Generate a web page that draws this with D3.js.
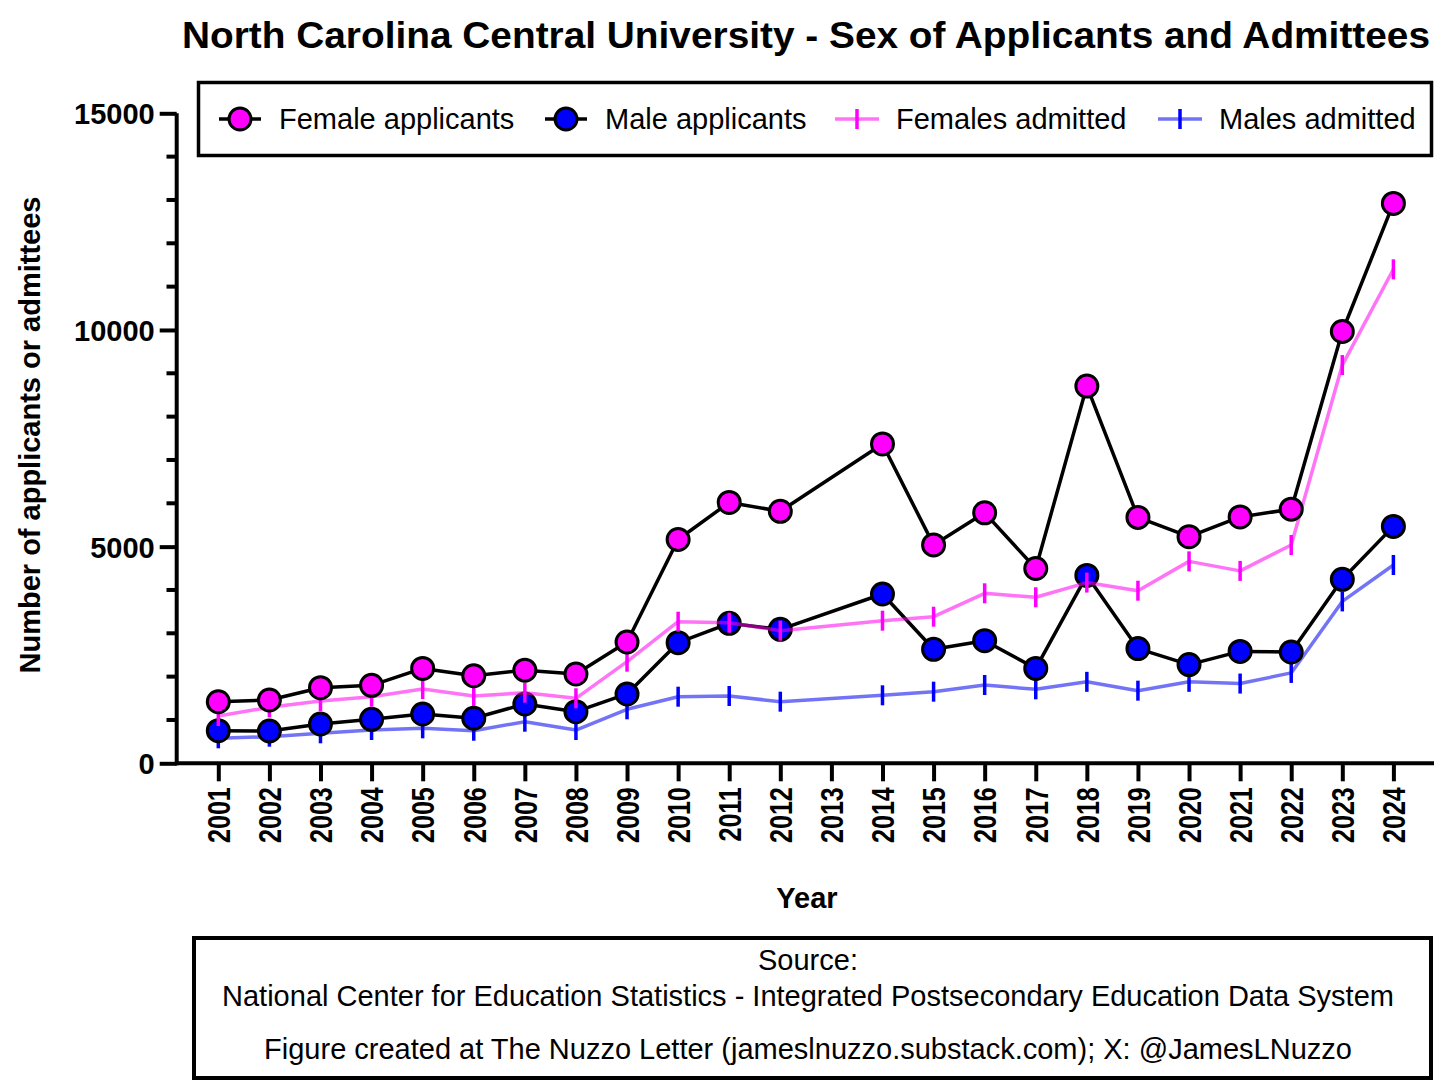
<!DOCTYPE html>
<html>
<head>
<meta charset="utf-8">
<script src="https://cdn.jsdelivr.net/npm/d3@7"></script>
<style>
  body { margin: 0; background: #fff; }
  svg { display: block; font-family: "Liberation Sans", Arial, Helvetica, sans-serif; }
</style>
</head>
<body>
<div id="chart"></div>
<script>
// NCCU applicants / admittees by sex (no 2013 data)
const years = [2001, 2002, 2003, 2004, 2005, 2006, 2007, 2008, 2009, 2010, 2011, 2012,
               2014, 2015, 2016, 2017, 2018, 2019, 2020, 2021, 2022, 2023, 2024];
const tickYears = d3.range(2001, 2025);

const femaleApplicants = [1420, 1460, 1745, 1800, 2190, 2020, 2150, 2060, 2800, 5165, 6020, 5815,
                          7370, 5040, 5780, 4495, 8705, 5675, 5230, 5685, 5865, 9965, 12920];
const maleApplicants   = [752, 745, 907, 1015, 1138, 1040, 1368, 1191, 1600, 2783, 3231, 3092,
                          3907, 2631, 2830, 2190, 4336, 2647, 2278, 2582, 2569, 4246, 5467];
const femalesAdmitted  = [1092, 1292, 1438, 1537, 1715, 1553, 1630, 1500, 2345, 3268, 3245, 3060,
                          3291, 3383, 3923, 3831, 4170, 3983, 4660, 4440, 5038, 9190, 11400];
const malesAdmitted    = [577, 614, 692, 768, 807, 752, 960, 768, 1246, 1537, 1553, 1422,
                          1569, 1653, 1807, 1707, 1880, 1676, 1880, 1840, 2086, 3736, 4576];

const yMajorTicks = [0, 5000, 10000, 15000];
const yMinorTicks = d3.range(1000, 15000, 1000).filter(v => v % 5000 !== 0);

const legendLabels = ["Female applicants", "Male applicants", "Females admitted", "Males admitted"];
const footerLines = [
  "Source:",
  "National Center for Education Statistics - Integrated Postsecondary Education Data System",
  "Figure created at The Nuzzo Letter (jameslnuzzo.substack.com); X: @JamesLNuzzo"
];

(function () {
  "use strict";

  const W = 1456, H = 1085;
  const FEMALE = "#ff00ff", MALE = "#0000ff";

  const svg = d3.select("#chart").append("svg")
    .attr("width", W).attr("height", H)
    .attr("viewBox", `0 0 ${W} ${H}`);

  const x = d3.scaleLinear().domain([2001, 2024]).range([218.3, 1393.4]);
  const y = d3.scaleLinear().domain([0, 15000]).range([763.3, 113.3]);

  // Title (stretched to the reference width)
  svg.append("text")
    .attr("x", 182).attr("y", 48)
    .attr("font-size", 36).attr("font-weight", "bold")
    .attr("textLength", 1248).attr("lengthAdjust", "spacingAndGlyphs")
    .text("North Carolina Central University - Sex of Applicants and Admittees");

  // Y axis
  const yAxis = svg.append("g")
    .attr("transform", "translate(176.7,0)")
    .call(d3.axisLeft(y).tickValues(yMajorTicks).tickSize(17).tickSizeOuter(0).tickFormat(d3.format("d")));
  yAxis.select(".domain").attr("stroke-width", 4).attr("d", `M0,${y(15000)}V${y(0) + 2}`);
  yAxis.selectAll(".tick line").attr("stroke-width", 4);
  yAxis.selectAll(".tick text")
    .attr("x", -22).attr("dy", "0.36em")
    .attr("font-size", 29).attr("font-weight", "bold")
    .attr("font-family", "Liberation Sans, Arial, sans-serif")
    .attr("fill", "#000");

  svg.append("g").selectAll("line.minor")
    .data(yMinorTicks).enter().append("line")
    .attr("x1", 166.5).attr("x2", 176.7)
    .attr("y1", d => y(d)).attr("y2", d => y(d))
    .attr("stroke", "#000").attr("stroke-width", 4);

  // X axis
  const xAxis = svg.append("g")
    .attr("transform", `translate(0,${y(0)})`)
    .call(d3.axisBottom(x).tickValues(tickYears).tickSize(18).tickSizeOuter(0).tickFormat(d3.format("d")));
  xAxis.select(".domain").attr("stroke-width", 4).attr("d", `M175,0H1434`);
  xAxis.selectAll(".tick line").attr("stroke-width", 4);
  xAxis.selectAll(".tick text")
    .attr("y", 0)
    .attr("text-anchor", "end")
    .attr("transform", "translate(0,24) rotate(-90) scale(1,1.25)")
    .attr("dy", "0.36em")
    .attr("font-size", 25).attr("font-weight", "bold")
    .attr("font-family", "Liberation Sans, Arial, sans-serif")
    .attr("fill", "#000");

  // Axis titles
  svg.append("text")
    .attr("transform", "translate(40,435) rotate(-90)")
    .attr("text-anchor", "middle")
    .attr("font-size", 29).attr("font-weight", "bold")
    .text("Number of applicants or admittees");

  svg.append("text")
    .attr("x", 807).attr("y", 908)
    .attr("text-anchor", "middle")
    .attr("font-size", 29).attr("font-weight", "bold")
    .text("Year");

  const line = d3.line().x(d => x(d.year)).y(d => y(d.value));
  const toPts = vals => years.map((yr, i) => ({ year: yr, value: vals[i] }));

  function drawAdmitted(vals, lineColor, tickColor) {
    const g = svg.append("g");
    g.append("path")
      .datum(toPts(vals))
      .attr("d", line)
      .attr("fill", "none")
      .attr("stroke", lineColor)
      .attr("stroke-opacity", 0.55)
      .attr("stroke-width", 3.5)
      .attr("stroke-linejoin", "round");
    g.selectAll("line.tk")
      .data(toPts(vals)).enter().append("line")
      .attr("x1", d => x(d.year)).attr("x2", d => x(d.year))
      .attr("y1", d => y(d.value) - 10).attr("y2", d => y(d.value) + 10)
      .attr("stroke", tickColor).attr("stroke-width", 3.5);
  }

  function drawApplicants(vals, fill) {
    const g = svg.append("g");
    g.append("path")
      .datum(toPts(vals))
      .attr("d", line)
      .attr("fill", "none")
      .attr("stroke", "#000")
      .attr("stroke-width", 3.5)
      .attr("stroke-linejoin", "round");
    g.selectAll("circle")
      .data(toPts(vals)).enter().append("circle")
      .attr("cx", d => x(d.year)).attr("cy", d => y(d.value))
      .attr("r", 11)
      .attr("fill", fill)
      .attr("stroke", "#000").attr("stroke-width", 3);
  }

  drawAdmitted(malesAdmitted, "#0000ee", "#0000ff");
  drawApplicants(maleApplicants, MALE);
  drawAdmitted(femalesAdmitted, "#ff00ee", "#ff00ff");
  drawApplicants(femaleApplicants, FEMALE);

  // Legend
  const lg = svg.append("g");
  lg.append("rect")
    .attr("x", 198.5).attr("y", 82.5).attr("width", 1233).attr("height", 73)
    .attr("fill", "#fff").attr("stroke", "#000").attr("stroke-width", 3.5);

  const symX = [240, 566, 857, 1180];
  const legendY = 119;
  legendLabels.forEach((lab, i) => {
    const cx = symX[i];
    if (i < 2) {
      lg.append("line")
        .attr("x1", cx - 21).attr("x2", cx + 21)
        .attr("y1", legendY).attr("y2", legendY)
        .attr("stroke", "#000").attr("stroke-width", 3.5);
      lg.append("circle")
        .attr("cx", cx).attr("cy", legendY).attr("r", 11)
        .attr("fill", i === 0 ? FEMALE : MALE)
        .attr("stroke", "#000").attr("stroke-width", 3);
    } else {
      const lc = i === 2 ? "#ff00ee" : "#0000ee";
      const tc = i === 2 ? "#ff00ff" : "#0000ff";
      lg.append("line")
        .attr("x1", cx - 22).attr("x2", cx + 22)
        .attr("y1", legendY).attr("y2", legendY)
        .attr("stroke", lc).attr("stroke-opacity", 0.55).attr("stroke-width", 3.5);
      lg.append("line")
        .attr("x1", cx).attr("x2", cx)
        .attr("y1", legendY - 10).attr("y2", legendY + 10)
        .attr("stroke", tc).attr("stroke-width", 3.5);
    }
    lg.append("text")
      .attr("x", cx + 39).attr("y", legendY + 10)
      .attr("font-size", 29)
      .text(lab);
  });

  // Footer box
  svg.append("rect")
    .attr("x", 194).attr("y", 938).attr("width", 1237).attr("height", 140)
    .attr("fill", "none").attr("stroke", "#000").attr("stroke-width", 4);

  const footerY = [970, 1006, 1059];
  footerLines.forEach((t, i) => {
    svg.append("text")
      .attr("x", 808).attr("y", footerY[i])
      .attr("text-anchor", "middle")
      .attr("font-size", 29)
      .text(t);
  });
})();
</script>
</body>
</html>
